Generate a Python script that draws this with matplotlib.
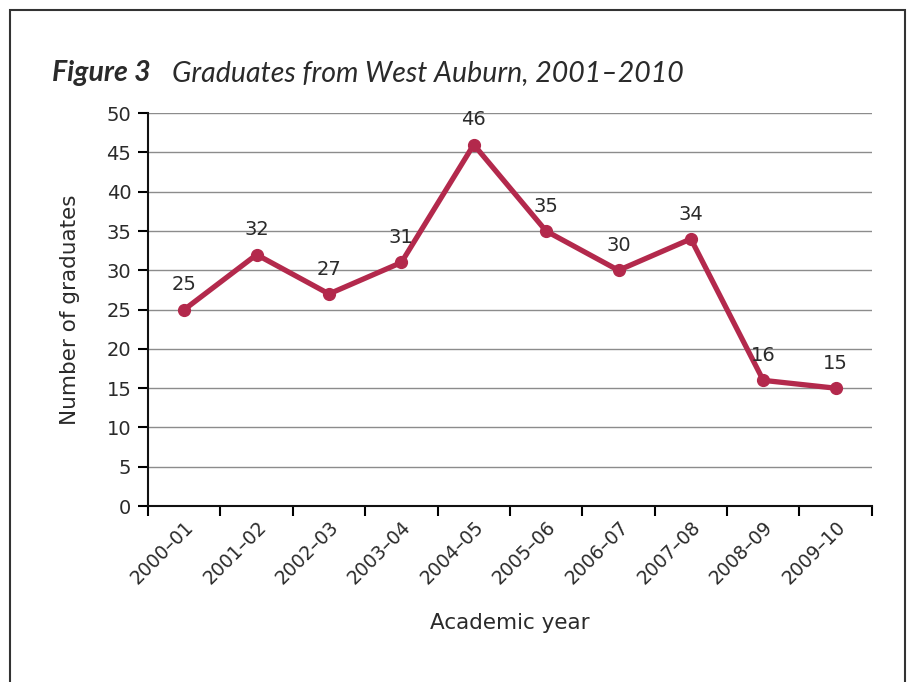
import numpy as np
import matplotlib
matplotlib.use("Agg")
import matplotlib.pyplot as plt
from matplotlib.patches import Rectangle
import matplotlib.transforms as mtransforms

years = ["2000\u201301", "2001\u201302", "2002\u201303", "2003\u201304", "2004\u201305",
         "2005\u201306", "2006\u201307", "2007\u201308", "2008\u201309", "2009\u201310"]
graduates = [25, 32, 27, 31, 46, 35, 30, 34, 16, 15]

plt.rcParams['font.family'] = ['DejaVu Sans']

line_color = '#B3294C'
text_color = '#2A2A2A'

fig = plt.figure(figsize=(9.11, 6.82), dpi=100)
ax = fig.add_axes([0.1625, 0.258, 0.7945, 0.576])

x = np.arange(len(years))
ax.plot(x, graduates, color=line_color, lw=3.8, marker='o', ms=8.5, zorder=3)

for xi, val in zip(x, graduates):
    ax.annotate(str(val), (xi, val), xytext=(0, 11), textcoords='offset points',
                ha='center', va='bottom', fontsize=14, color=text_color)

ax.set_xlim(-0.5, len(years) - 0.5)
ax.set_ylim(0, 50)
ax.set_yticks(np.arange(0, 51, 5))
ax.set_xticks(np.arange(-0.5, len(years), 1.0))
ax.set_xticklabels([])
ax.set_xticks(x, minor=True)
ax.set_xticklabels(years, minor=True, rotation=45, ha='right', va='top',
                   rotation_mode='anchor', fontsize=13.5, color=text_color)
shift = mtransforms.ScaledTranslation(8 / 100, 0, fig.dpi_scale_trans)
for lab in ax.get_xticklabels(minor=True):
    lab.set_transform(lab.get_transform() + shift)
ax.tick_params(axis='x', which='minor', length=0, pad=8)
ax.tick_params(axis='x', which='major', length=7, width=1.5, direction='out')
ax.tick_params(axis='y', length=7, width=1.5, direction='out', labelsize=14,
               labelcolor=text_color, pad=5)

ax.yaxis.grid(True, color='#8C8C8C', lw=1)
ax.set_axisbelow(True)
for s in ['top', 'right']:
    ax.spines[s].set_visible(False)
for s in ['left', 'bottom']:
    ax.spines[s].set_linewidth(1.5)
    ax.spines[s].set_color('#111111')

ax.set_ylabel("Number of graduates", fontsize=15.5, color=text_color, labelpad=19)
ax.set_xlabel("Academic year", fontsize=15.5, color=text_color, labelpad=18)

fig.text(52 / 911, 1 - 73 / 682, "Figure 3", fontsize=20.5, fontweight='bold',
         fontstyle='italic', color=text_color, va='center', ha='left', family='Lato')
fig.text(172 / 911, 1 - 73 / 682, "Graduates from West Auburn, 2001\u20132010",
         fontsize=20.5, fontstyle='italic', color=text_color, va='center', ha='left',
         family='Lato')

fig.patches.append(Rectangle((10 / 911, -0.1), (905 - 10) / 911, 1.1 - 10 / 682,
                             transform=fig.transFigure, fill=False,
                             edgecolor='#333333', lw=1.5))

fig.savefig("out.png", dpi=100)
